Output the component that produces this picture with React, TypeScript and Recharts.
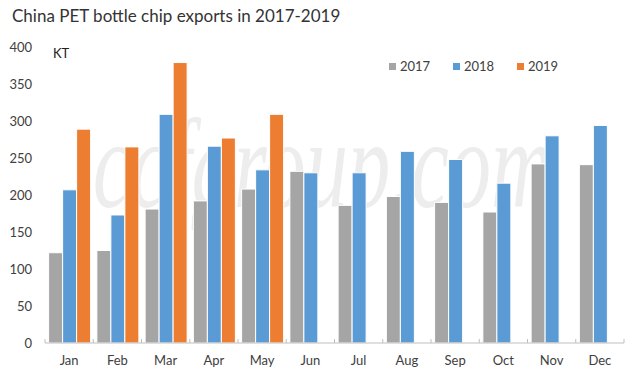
import { BarChart, Bar, XAxis, YAxis, Legend } from "recharts";

const months = ["Jan", "Feb", "Mar", "Apr", "May", "Jun", "Jul", "Aug", "Sep", "Oct", "Nov", "Dec"];
const exports2017 = [122, 125, 181, 192, 208, 232, 186, 198, 190, 177, 242, 241];
const exports2018 = [207, 173, 309, 266, 234, 230, 230, 259, 248, 216, 280, 294];
const exports2019 = [289, 265, 379, 277, 309, null, null, null, null, null, null, null];
const yTicks = [0, 50, 100, 150, 200, 250, 300, 350, 400];

const FONT = "Lato, 'Open Sans', sans-serif";
const TEXT = "#404040";

const data = months.map((m, i) => ({
  month: m,
  "2017": exports2017[i],
  "2018": exports2018[i],
  "2019": exports2019[i],
}));

const MonthTick = (props: any) => {
  const { x, y, payload, index } = props;
  const half = 579 / 12 / 2;
  return (
    <g>
      <line x1={x - half} x2={x - half} y1={y - 4} y2={y} stroke="#BFBFBF" />
      {index === months.length - 1 && (
        <line x1={x + half} x2={x + half} y1={y - 4} y2={y} stroke="#BFBFBF" />
      )}
      <text x={x} y={y + 22} textAnchor="middle" fill={TEXT} fontSize={13} fontFamily={FONT}>
        {payload.value}
      </text>
    </g>
  );
};

const LegendContent = (props: any) => {
  const { payload = [] } = props;
  return (
    <div style={{ display: "flex", fontFamily: FONT, fontSize: 13, color: TEXT }}>
      {payload.map((p: any) => (
        <div key={p.value} style={{ width: 64, display: "flex", alignItems: "center" }}>
          <span style={{ width: 7, height: 7, background: p.color, marginRight: 4, display: "inline-block" }} />
          <span>{p.value}</span>
        </div>
      ))}
    </div>
  );
};

export default function App() {
  return (
    <div style={{ position: "absolute", left: 0, top: 0, width: 638, height: 376, background: "#fff" }}>
      <svg width={638} height={376} style={{ position: "absolute", left: 0, top: 0 }}>
        <g transform="translate(93 207) scale(0.66 1)">
          <text
            x={0}
            y={0}
            fontFamily="Liberation Serif"
            fontStyle="italic"
            fontSize={128}
            fill="#EDEDED"
          >
            ccfgroup.com
          </text>
        </g>
      </svg>
      <div
        style={{
          position: "absolute",
          left: 12,
          top: 5,
          fontFamily: FONT,
          fontSize: 17,
          color: "#333",
          whiteSpace: "nowrap",
        }}
      >
        China PET bottle chip exports in 2017-2019
      </div>
      <div style={{ position: "absolute", left: 53, top: 45, fontFamily: FONT, fontSize: 13, color: "#222" }}>
        KT
      </div>
      <div style={{ position: "absolute", left: 0, top: 0 }}>
        <BarChart
          width={638}
          height={376}
          data={data}
          margin={{ top: 47, right: 14, bottom: 0, left: 0 }}
          barCategoryGap="7.5%"
          barGap={0}
        >
          <XAxis
            dataKey="month"
            height={33}
            axisLine={{ stroke: "#BFBFBF" }}
            tickLine={false}
            tickSize={0}
            tickMargin={0}
            tick={<MonthTick />}
            interval={0}
          />
          <YAxis
            width={45}
            domain={[0, 400]}
            ticks={yTicks}
            axisLine={false}
            tickLine={false}
            tickSize={0}
            tickMargin={13}
            tick={{ fill: TEXT, fontSize: 13, fontFamily: FONT }}
          />
          <Legend
            layout="horizontal"
            verticalAlign="middle"
            align="center"
            content={<LegendContent />}
            wrapperStyle={{ top: 58, left: 389, width: 200, height: 18 }}
          />
          <Bar dataKey="2017" fill="#A5A5A5" stroke="#fff" strokeWidth={1} isAnimationActive={false} />
          <Bar dataKey="2018" fill="#5B9BD5" stroke="#fff" strokeWidth={1} isAnimationActive={false} />
          <Bar dataKey="2019" fill="#ED7D31" stroke="#fff" strokeWidth={1} isAnimationActive={false} />
        </BarChart>
      </div>
    </div>
  );
}
